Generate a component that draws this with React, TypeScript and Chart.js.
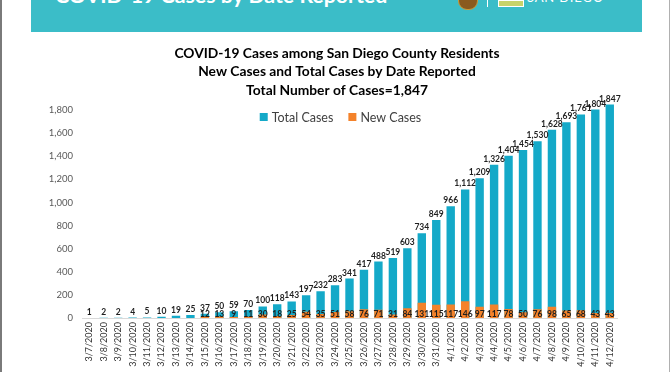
import React, { useEffect, useRef } from "react";
import { Chart, registerables } from "chart.js";

Chart.register(...registerables);

const dates = [
  "3/7/2020", "3/8/2020", "3/9/2020", "3/10/2020", "3/11/2020", "3/12/2020", "3/13/2020",
  "3/14/2020", "3/15/2020", "3/16/2020", "3/17/2020", "3/18/2020", "3/19/2020", "3/20/2020",
  "3/21/2020", "3/22/2020", "3/23/2020", "3/24/2020", "3/25/2020", "3/26/2020", "3/27/2020",
  "3/28/2020", "3/29/2020", "3/30/2020", "3/31/2020", "4/1/2020", "4/2/2020", "4/3/2020",
  "4/4/2020", "4/5/2020", "4/6/2020", "4/7/2020", "4/8/2020", "4/9/2020", "4/10/2020",
  "4/11/2020", "4/12/2020",
];

const totalCases = [
  1, 2, 2, 4, 5, 10, 19, 25, 37, 50, 59, 70, 100, 118, 143, 197, 232, 283, 341, 417, 488,
  519, 603, 734, 849, 966, 1112, 1209, 1326, 1404, 1454, 1530, 1628, 1693, 1761, 1804, 1847,
];

const newCases: (number | null)[] = [
  null, null, null, null, null, null, null, null, 12, 13, 9, 11, 30, 18, 25, 54, 35, 51, 58,
  76, 71, 31, 84, 131, 115, 117, 146, 97, 117, 78, 50, 76, 98, 65, 68, 43, 43,
];

const yTicks = [0, 200, 400, 600, 800, 1000, 1200, 1400, 1600, 1800];

const titleLines = [
  "COVID-19 Cases among San Diego County Residents",
  "New Cases and Total Cases by Date Reported",
  "Total Number of Cases=1,847",
];

const seriesNames = ["Total Cases", "New Cases"];
const headerTitle = "COVID-19 Cases by Date Reported";

const TEAL = "#14A9C8";
const ORANGE = "#F4822A";
const FONT = "Lato, 'Open Sans', sans-serif";

export default function App() {
  const ref = useRef<HTMLCanvasElement>(null);

  useEffect(() => {
    if (!ref.current) return;
    const labelPlugin = {
      id: "barLabels",
      afterDatasetsDraw(chart: any) {
        const ctx = chart.ctx;
        ctx.save();
        ctx.font = `bold 8.5px ${FONT}`;
        ctx.fillStyle = "#1f1f1f";
        ctx.textAlign = "center";
        const m0 = chart.getDatasetMeta(0);
        m0.data.forEach((bar: any, i: number) => {
          const v = totalCases[i];
          if (v == null) return;
          ctx.textBaseline = "alphabetic";
          ctx.fillText(v.toLocaleString("en-US"), bar.x, bar.y - 3);
        });
        const m1 = chart.getDatasetMeta(1);
        m1.data.forEach((bar: any, i: number) => {
          const v = newCases[i];
          if (v == null) return;
          ctx.textBaseline = "middle";
          ctx.fillText(String(v), bar.x, bar.base - 4);
        });
        ctx.restore();
      },
      afterDraw(chart: any) {
        // legend drawn inside the plot area, like the original
        const ctx = chart.ctx;
        const ds = chart.data.datasets;
        ctx.save();
        ctx.font = `12.5px ${FONT}`;
        const box = 8;
        const gap = 4;
        const between = 15;
        const widths = ds.map((d: any) => ctx.measureText(d.label).width);
        const total =
          widths.reduce((a: number, b: number) => a + b, 0) + ds.length * (box + gap) + between * (ds.length - 1);
        const cx = (chart.chartArea.left + chart.chartArea.right) / 2 - 9;
        const cy = chart.scales.y.getPixelForValue(1800) + 7;
        let x = cx - total / 2;
        ds.forEach((d: any, i: number) => {
          ctx.fillStyle = d.backgroundColor;
          ctx.fillRect(x, cy - box / 2, box, box);
          x += box + gap;
          ctx.fillStyle = "#404040";
          ctx.textAlign = "left";
          ctx.textBaseline = "middle";
          ctx.fillText(d.label, x, cy + 0.5);
          x += widths[i] + between;
        });
        ctx.restore();
      },
    };

    const chart = new Chart(ref.current, {
      type: "bar",
      data: {
        labels: dates,
        datasets: [
          {
            label: seriesNames[0],
            data: totalCases,
            backgroundColor: TEAL,
            grouped: false,
            order: 1,
            barPercentage: 0.58,
            categoryPercentage: 1,
          } as any,
          {
            label: seriesNames[1],
            data: newCases,
            backgroundColor: ORANGE,
            grouped: false,
            order: 0,
            barPercentage: 0.58,
            categoryPercentage: 1,
          } as any,
        ],
      },
      options: {
        animation: false,
        responsive: false,
        maintainAspectRatio: false,
        devicePixelRatio: 1,
        layout: { padding: { left: 40, right: 38, top: 0, bottom: 0 } },
        plugins: {
          tooltip: { enabled: false },
          title: {
            display: true,
            text: titleLines,
            color: "#000000",
            font: { family: FONT, size: 13.8, weight: "bold", lineHeight: 1.34 },
            padding: { top: 44, bottom: 0 },
          },
          legend: { display: false },
        },
        scales: {
          x: {
            grid: { display: false, drawTicks: false },
            border: { display: true, color: "#D9D9D9", width: 1 },
            ticks: {
              color: "#333333",
              font: { family: FONT, size: 9 },
              minRotation: 90,
              maxRotation: 90,
              autoSkip: false,
              padding: 4,
            },
            afterFit: (scale: any) => {
              scale.height = 54;
            },
          },
          y: {
            min: 0,
            max: 1891,
            grid: { display: false, drawTicks: false },
            border: { display: false },
            ticks: {
              color: "#595959",
              font: { family: FONT, size: 9.5 },
              padding: 9,
              callback: (v: any) => Number(v).toLocaleString("en-US"),
            },
            afterBuildTicks: (axis: any) => {
              axis.ticks = yTicks.map((v) => ({ value: v }));
            },
            afterFit: (scale: any) => {
              scale.width = 42;
            },
          },
          yRight: {
            position: "right",
            display: true,
            grid: { display: false, drawTicks: false },
            border: { display: false },
            ticks: { display: false },
            afterFit: (scale: any) => {
              scale.width = 17;
            },
          },
        },
      } as any,
      plugins: [labelPlugin],
    });
    return () => chart.destroy();
  }, []);

  return (
    <div
      style={{
        position: "fixed",
        left: 0,
        top: 0,
        width: 672,
        height: 372,
        background: "#ffffff",
        overflow: "hidden",
      }}
    >
      <canvas
        ref={ref}
        width={672}
        height={372}
        style={{ position: "absolute", left: 0, top: 0, width: 672, height: 372 }}
      />
      <div
        style={{
          position: "absolute",
          left: 31,
          top: 0,
          width: 611,
          height: 32,
          background: "#3BBDC8",
          overflow: "hidden",
        }}
      >
        <div
          style={{
            position: "absolute",
            left: 24,
            top: -15,
            color: "#ffffff",
            fontFamily: FONT,
            fontWeight: 700,
            fontSize: 21.3,
            lineHeight: "21px",
            whiteSpace: "nowrap",
          }}
        >
          {headerTitle}
        </div>
        <div
          style={{
            position: "absolute",
            left: 427,
            top: -10,
            width: 18,
            height: 18,
            borderRadius: 9,
            background: "#8A5A1E",
            border: "1px solid #C89A3A",
          }}
        />
        <div
          style={{
            position: "absolute",
            left: 456,
            top: 0,
            width: 1,
            height: 7,
            background: "#ffffff",
          }}
        />
        <div
          style={{
            position: "absolute",
            left: 467,
            top: 0,
            width: 24,
            height: 5,
            background: "#C7D36A",
            border: "1px solid #ffffff",
          }}
        />
        <div
          style={{
            position: "absolute",
            left: 496,
            top: -9,
            color: "#ffffff",
            fontFamily: FONT,
            fontSize: 13,
            lineHeight: "13px",
            letterSpacing: 0.8,
            whiteSpace: "nowrap",
          }}
        >
          SAN DIEGO
        </div>
      </div>
      <div style={{ position: "absolute", left: 0, top: 0, width: 2, height: 372, background: "#7a7a7a" }} />
      <div style={{ position: "absolute", left: 669, top: 0, width: 1, height: 372, background: "#b0b0b0" }} />
    </div>
  );
}
